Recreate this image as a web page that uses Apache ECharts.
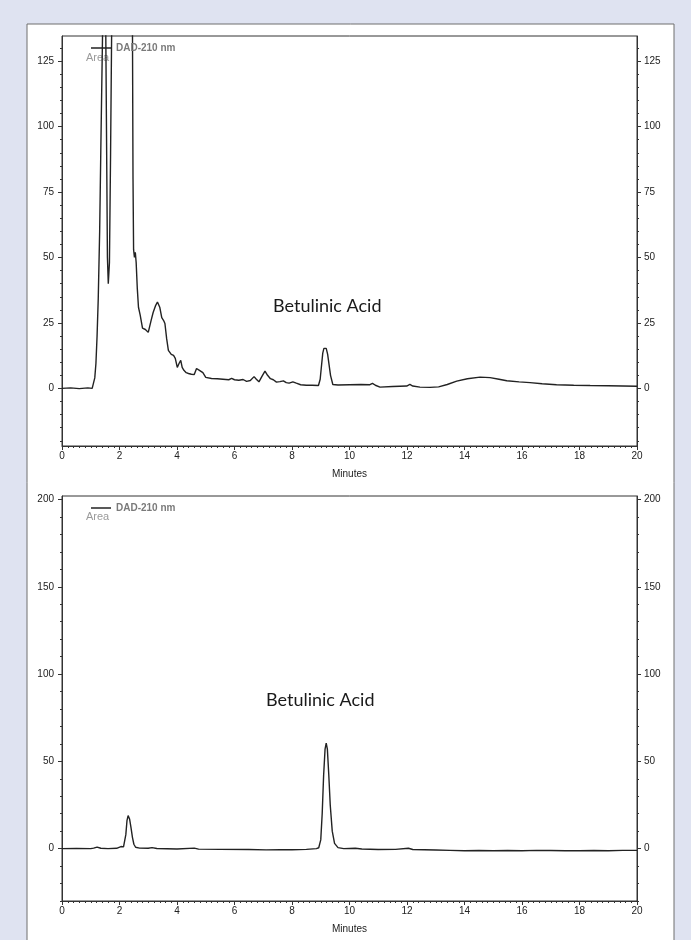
<!DOCTYPE html>
<html><head><meta charset="utf-8">
<script src="https://cdn.jsdelivr.net/npm/echarts@6/dist/echarts.min.js"></script>
<style>html,body{margin:0;padding:0;background:#dfe3f1;}#c{width:691px;height:940px;}</style>
</head><body><div id="c"></div>
<script>
// ---- Data (retention time in minutes, detector signal in Area units) ----
const topTime = [
  0, 0.3, 0.6, 0.9, 1.05, 1.09, 1.14, 1.18, 1.22, 1.26,
  1.31, 1.35, 1.41, 1.47, 1.52, 1.56, 1.58, 1.61, 1.65, 1.69,
  1.73, 1.8, 1.95, 2.1, 2.25, 2.38, 2.45, 2.47, 2.49, 2.52,
  2.55, 2.58, 2.62, 2.66, 2.72, 2.8, 2.9, 3.0, 3.05, 3.1,
  3.17, 3.25, 3.32, 3.4, 3.47, 3.53, 3.58, 3.64, 3.7, 3.8,
  3.88, 3.94, 4.01, 4.07, 4.13, 4.18, 4.24, 4.32, 4.4, 4.5,
  4.6, 4.68, 4.73, 4.78, 4.84, 4.9, 5.0, 5.2, 5.4, 5.6,
  5.8, 5.9, 6.0, 6.15, 6.3, 6.42, 6.55, 6.68, 6.76, 6.85,
  6.95, 7.06, 7.15, 7.25, 7.35, 7.46, 7.58, 7.7, 7.8, 7.9,
  8.03, 8.15, 8.3, 8.5, 8.7, 8.92, 8.98, 9.02, 9.07, 9.11,
  9.19, 9.24, 9.29, 9.34, 9.42, 9.6, 10.0, 10.4, 10.71, 10.8,
  10.9, 11.06, 11.5, 11.99, 12.1, 12.2, 12.45, 12.8, 13.1, 13.4,
  13.73, 14.1, 14.54, 14.89, 15.2, 15.47, 15.9, 16.28, 16.7, 17.2,
  17.8, 18.37, 19.0, 19.5, 20
];
const topSignal = [
  0, 0.2, -0.1, 0.2, 0, 0.5, 4, 9.5, 20, 34,
  60, 91, 135, 260, 140, 80, 50, 40, 48, 90,
  140, 220, 300, 320, 290, 220, 140, 80, 53, 50,
  52, 48, 38, 31, 28, 23, 22.5, 21.4, 22, 26,
  29, 31.5, 33, 31, 27, 26, 24.8, 19, 14.5, 13,
  12.6, 11.5, 8, 9.5, 10.7, 8, 6.9, 6, 5.7, 5.4,
  5.3, 7.6, 7, 6.9, 7.6, 6, 4.2, 3.8, 3.7, 3.5,
  3.3, 3.8, 3.3, 3.1, 3.4, 2.7, 3.0, 4.5, 3.5, 2.5,
  4.5, 6.6, 5.0, 3.7, 3.3, 2.4, 2.6, 2.9, 2.2, 2.0,
  2.5, 2.0, 1.4, 1.2, 1.2, 1.1, 3.5, 8, 13.5, 15.3,
  15.3, 13, 9, 5, 1.5, 1.3, 1.4, 1.5, 1.4, 1.9,
  1.2, 0.5, 0.7, 0.9, 1.5, 0.9, 0.5, 0.4, 0.6, 1.5,
  2.8, 3.7, 4.3, 4.1, 3.5, 2.9, 2.5, 2.2, 1.8, 1.4,
  1.2, 1.1, 1.0, 0.9, 0.8
];
const bottomTime = [
  0, 0.5, 1.0, 1.1, 1.22, 1.35, 1.6, 1.9, 2.05, 2.09,
  2.14, 2.18, 2.22, 2.26, 2.3, 2.35, 2.4, 2.45, 2.5, 2.56,
  2.7, 3.0, 3.13, 3.3, 4.0, 4.6, 4.75, 5.5, 6.5, 7.1,
  7.6, 8.0, 8.5, 8.85, 8.93, 9.0, 9.05, 9.1, 9.15, 9.19,
  9.23, 9.28, 9.33, 9.4, 9.48, 9.6, 9.8, 10.2, 10.43, 11.0,
  11.6, 12.05, 12.2, 13.0, 13.5, 14.0, 14.5, 15.0, 15.5, 16.0,
  16.5, 17.0, 17.5, 18.0, 18.5, 19.0, 19.5, 20
];
const bottomSignal = [
  0, 0.1, 0, 0.3, 0.9, 0.2, 0, 0.2, 1.2, 2.3,
  1.0, 0.5, 8, 16, 18.9, 17, 12, 6.5, 2.5, 0.8,
  0.3, 0.2, 0.6, 0.1, -0.2, 0.3, -0.3, -0.4, -0.5, -0.7,
  -0.6, -0.6, -0.4, 0, 0.5, 5, 20, 42, 57, 60.5,
  57, 42, 25, 10, 3, 0.6, 0, 0.2, -0.2, -0.5,
  -0.4, 0.2, -0.5, -0.8, -1.0, -1.2, -1.1, -1.2, -1.1, -1.2,
  -1.0, -1.1, -1.2, -1.2, -1.1, -1.2, -1.0, -1.0
];
const topYTicks = [0, 25, 50, 75, 100, 125];
const bottomYTicks = [0, 50, 100, 150, 200];
const seriesName = 'DAD-210 nm';
const yUnit = 'Area';
const xName = 'Minutes';
const peakLabel = 'Betulinic Acid';

// ---- Helpers ----
function zip(xs, ys) { return xs.map((x, i) => [x, ys[i]]); }
function minorValues(lo, hi, step) { const a = []; for (let v = lo; v <= hi + 1e-9; v += step) a.push(Math.round(v * 100) / 100); return a; }

const AX = '#333';
const FONT = 'Liberation Sans';
function yAxesFor(gi, min, max, major, minor) {
  const out = [];
  ['left', 'right'].forEach(pos => {
    out.push({
      gridIndex: gi, type: 'value', position: pos, min: min, max: max,
      splitLine: { show: false },
      axisLine: { show: true, lineStyle: { color: AX, width: 1 } },
      axisTick: { show: true, customValues: major, length: 4, lineStyle: { color: AX } },
      axisLabel: { show: true, customValues: major, fontSize: 10, color: '#222', margin: pos === 'left' ? 8 : 7, fontFamily: FONT }
    });
    out.push({
      gridIndex: gi, type: 'value', position: pos, min: min, max: max,
      splitLine: { show: false },
      axisLine: { show: false },
      axisTick: { show: true, customValues: minor, length: 2, lineStyle: { color: AX } },
      axisLabel: { show: false }
    });
  });
  return out;
}
function xAxisFor(gi) {
  return {
    gridIndex: gi, type: 'value', min: 0, max: 20, interval: 2,
    name: xName, nameLocation: 'middle', nameGap: 23,
    nameTextStyle: { fontSize: 10, color: '#222', fontFamily: FONT },
    splitLine: { show: false },
    axisLine: { show: true, onZero: false, lineStyle: { color: AX } },
    axisTick: { show: true, length: 4, lineStyle: { color: AX } },
    minorTick: { show: true, splitNumber: 10, length: 2, lineStyle: { color: AX } },
    axisLabel: { fontSize: 10, color: '#222', margin: 5, fontFamily: FONT }
  };
}

const chart = echarts.init(document.getElementById('c'), null, { renderer: 'canvas' });
const legendBase = {
  data: [seriesName], icon: 'rect', itemWidth: 20, itemHeight: 1.5, selectedMode: false,
  textStyle: { fontSize: 10, color: '#7a7a7a', fontWeight: 'bold', fontFamily: FONT }
};
chart.setOption({
  animation: false,
  backgroundColor: '#dfe3f1',
  graphic: [
    { type: 'rect', z: -10, silent: true, shape: { x: 27, y: 24, width: 647, height: 940 },
      style: { fill: '#ffffff', stroke: '#6e6e6e', lineWidth: 1 } },
    { type: 'text', left: 86, top: 52, silent: true, style: { text: yUnit, fontSize: 11, fill: '#9a9a9a', fontFamily: FONT } },
    { type: 'text', left: 86, top: 511, silent: true, style: { text: yUnit, fontSize: 11, fill: '#9a9a9a', fontFamily: FONT } },
    { type: 'text', left: 273, top: 297, silent: true, style: { text: peakLabel, fontSize: 18, fill: '#1a1a1a', fontFamily: 'Lato' } },
    { type: 'text', left: 266, top: 691, silent: true, style: { text: peakLabel, fontSize: 18, fill: '#1a1a1a', fontFamily: 'Lato' } }
  ],
  legend: [
    Object.assign({}, legendBase, { left: 86, top: 38 }),
    Object.assign({}, legendBase, { left: 86, top: 498 })
  ],
  grid: [
    { left: 62, right: 54, top: 36, height: 410, show: true, borderColor: AX, borderWidth: 1, backgroundColor: 'transparent' },
    { left: 62, right: 54, top: 496, height: 405, show: true, borderColor: AX, borderWidth: 1, backgroundColor: 'transparent' }
  ],
  xAxis: [xAxisFor(0), xAxisFor(1)],
  yAxis: yAxesFor(0, -22, 134.6, topYTicks, minorValues(-20, 130, 5))
    .concat(yAxesFor(1, -30, 202, bottomYTicks, minorValues(-30, 200, 10))),
  series: [
    { name: seriesName, type: 'line', xAxisIndex: 0, yAxisIndex: 0, data: zip(topTime, topSignal),
      showSymbol: false, symbol: 'none', clip: true, lineStyle: { color: '#222', width: 1.4 }, itemStyle: { color: '#222' } },
    { name: seriesName, type: 'line', xAxisIndex: 1, yAxisIndex: 4, data: zip(bottomTime, bottomSignal),
      showSymbol: false, symbol: 'none', clip: true, lineStyle: { color: '#222', width: 1.4 }, itemStyle: { color: '#222' } }
  ]
});
</script>
</body></html>
